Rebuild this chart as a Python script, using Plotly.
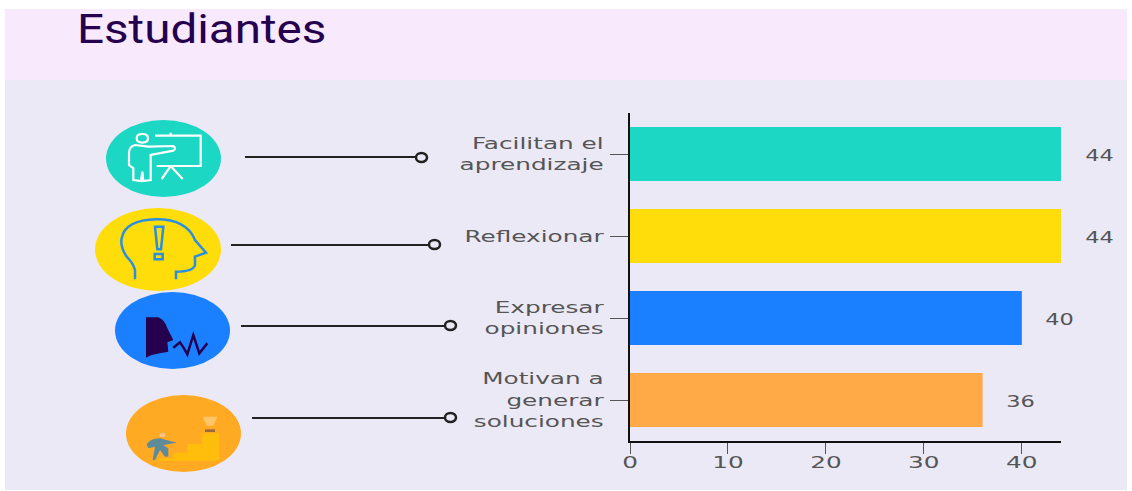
import re
import plotly.graph_objects as go

W, H = 1132, 491

categories = ['Facilitan el<br>aprendizaje', 'Reflexionar', 'Expresar<br>opiniones', 'Motivan a<br>generar<br>soluciones']
values = [44, 44, 40, 36]
bar_colors = ['#1BD7C4', '#FFDD0A', '#1A80FF', '#FFA947']
x_ticks = [0, 10, 20, 30, 40]

GREY = '#555555'
DARK = '#25004F'
FONT = 'DejaVu Sans'

# the reference text is stretched sideways, so scale it about each text's own anchor
STRETCH = """
document.body.style.margin = '0';
document.documentElement.style.overflow = 'hidden';
[['.ytick text, .xtick text, .annotation-text', 1.5], ['.gtitle', 1.19]].forEach(function (s) {
  document.querySelectorAll(s[0]).forEach(function (t) {
    var x = t.getAttribute('x') || 0;
    var old = t.getAttribute('transform') || '';
    t.setAttribute('transform', old + ' translate(' + x + ',0) scale(' + s[1] + ',1) translate(' + (-x) + ',0)');
  });
});
"""


def conv(path, ox=0, oy=0, k=1.0):
    # path written in pixels, absolute commands only
    res, is_x = [], True
    for tok in re.findall(r'[MLQCZ]|-?\d+\.?\d*', path):
        if tok in 'MLQCZ':
            res.append(tok)
            continue
        v = float(tok)
        if is_x:
            res.append(f'{(ox + v * k) / W:.5f}')
        else:
            res.append(f'{1 - (oy + v * k) / H:.5f}')
        is_x = not is_x
    return ' '.join(res)


def rect(x0, y0, x1, y1, color):
    return dict(type='rect', xref='paper', yref='paper', layer='below',
                x0=x0 / W, x1=x1 / W, y0=1 - y0 / H, y1=1 - y1 / H,
                fillcolor=color, line_width=0)


def oval(x0, y0, x1, y1, color, line=None, width=0):
    return dict(type='circle', xref='paper', yref='paper', layer='below',
                x0=x0 / W, x1=x1 / W, y0=1 - y0 / H, y1=1 - y1 / H,
                fillcolor=color, line=dict(color=line or color, width=width))


def hline(x0, x1, y):
    return dict(type='line', xref='paper', yref='paper', layer='below',
                x0=x0 / W, x1=x1 / W, y0=1 - y / H, y1=1 - y / H,
                line=dict(color='#222222', width=2))


def icon(path, ox, oy, stroke=None, fill=None, width=2.2):
    return dict(type='path', xref='paper', yref='paper', layer='below',
                path=conv(path, ox, oy, 1 / 3),
                fillcolor=fill or 'rgba(0,0,0,0)',
                line=dict(color=stroke or 'rgba(0,0,0,0)', width=width if stroke else 0))


shapes = [
    rect(5, 9, 1127, 80, '#F8E9FD'),
    rect(5, 80, 1127, 490, '#ECE9F6'),
    # circles behind the icons
    oval(106, 120, 221, 197, '#1BD7C4'),
    oval(95, 208, 221, 291, '#FFDD0A'),
    oval(115, 292, 230, 369, '#1A80FF'),
    oval(126, 395, 241, 472, '#FFAA22'),
    # connectors
    hline(245, 416, 157),
    hline(231, 429, 245),
    hline(241, 445, 326),
    hline(252, 445, 418),
    oval(416, 153, 427, 162, 'rgba(0,0,0,0)', '#222222', 2.5),
    oval(429, 240, 440, 249, 'rgba(0,0,0,0)', '#222222', 2.5),
    oval(445, 321, 456, 330, 'rgba(0,0,0,0)', '#222222', 2.5),
    oval(445, 413, 456, 422, 'rgba(0,0,0,0)', '#222222', 2.5),
    # teacher + board
    icon('M 225 107 L 362 107 L 362 198 L 230 198', 80, 100, 'white'),
    icon('M 272 98 L 272 107 M 272 198 L 245 237 M 272 198 L 308 237', 80, 100, 'white'),
    icon('M 170 115 Q 170 102 187 102 Q 204 102 204 115 Q 204 128 187 128 Q 170 128 170 115 Z', 80, 100, 'white'),
    icon('M 205 140 L 165 135 Q 147 140 147 160 L 147 195 L 160 205 L 160 240 L 183 243 L 187 215 L 190 243 L 212 240 L 212 165 L 280 152 Q 290 145 280 138 Z', 80, 100, 'white'),
    # head with exclamation mark
    icon('M 165 538 L 165 510 Q 160 490 140 470 Q 120 440 125 415 Q 135 360 230 358 Q 320 358 345 420 L 378 458 L 345 470 L 345 495 Q 340 515 288 515 L 288 538', 80, 100, '#2A8FE0', width=2.5),
    icon('M 225 380 L 250 380 L 243 448 L 232 448 Z M 224 462 L 248 462 L 248 478 L 224 478 Z', 80, 100, '#2A8FE0', width=2.5),
    # speaking head
    icon('M 198 97 L 235 97 Q 255 105 262 130 L 280 165 L 262 172 L 265 200 L 240 205 L 215 210 L 198 218 Z', 80, 285, fill=DARK),
    icon('M 280 188 L 300 172 L 312 190 L 322 208 L 340 150 L 358 205 L 382 175', 80, 285, DARK, width=2.5),
    # stairs, bulb and climber
    icon('M 235 527 L 235 520 L 280 520 L 280 503 L 322 503 L 322 477 L 365 477 L 365 445 L 417 445 L 417 527 Z', 80, 285, fill='#FFBE0B'),
    icon('M 368 395 L 412 395 L 400 422 L 380 422 Z', 80, 285, fill='#FFC56B'),
    icon('M 375 433 L 405 433 L 405 441 L 375 441 Z', 80, 285, fill='#9A6A3A'),
    icon('M 238 450 Q 238 443 247 443 Q 256 443 256 450 Q 256 457 247 457 Q 238 457 238 450 Z', 80, 285, fill='#FFC089'),
    icon('M 200 478 Q 210 460 240 460 L 290 473 L 250 480 L 265 490 L 265 515 L 255 515 L 240 495 L 225 525 L 218 525 L 225 485 L 205 490 Z', 80, 285, fill='#5F8A9A'),
]

fig = go.Figure(go.Bar(
    x=values,
    y=categories,
    orientation='h',
    marker=dict(color=bar_colors, line_width=0),
    cliponaxis=False,
))

for cat, val in zip(categories, values):
    fig.add_annotation(x=val, y=cat, text=str(val), showarrow=False, xshift=38, yshift=-2,
                       font=dict(family=FONT, size=15, color=GREY))

fig.update_layout(
    width=W,
    height=H,
    margin=dict(l=0, r=0, t=0, b=0),
    paper_bgcolor='white',
    plot_bgcolor='rgba(0,0,0,0)',
    showlegend=False,
    bargap=0.34,
    shapes=shapes,
    title=dict(text='Estudiantes', x=77 / W, xanchor='left', y=1 - 29 / H, yanchor='middle',
               automargin=False, font=dict(family='Roboto', size=40, color=DARK)),
    xaxis=dict(
        automargin=False,
        domain=[630 / W, 1061 / W],
        range=[0, 44],
        tickvals=x_ticks,
        ticks='outside',
        ticklen=11,
        ticklabelstandoff=-6,
        tickcolor=GREY,
        tickfont=dict(family=FONT, size=16.5, color=GREY),
        showgrid=False,
        zeroline=False,
        showline=True,
        linecolor='#111111',
        linewidth=2,
        anchor='y',
    ),
    yaxis=dict(
        automargin=False,
        domain=[1 - 441 / H, 1 - 113 / H],
        autorange='reversed',
        ticks='outside',
        ticklen=18,
        ticklabelstandoff=3,
        tickcolor=GREY,
        tickfont=dict(family=FONT, size=16.5, color=GREY),
        showgrid=False,
        zeroline=False,
        showline=True,
        linecolor='#111111',
        linewidth=2,
        anchor='x',
    ),
)

fig.write_html('out.html', config=dict(displayModeBar=False), post_script=STRETCH)
